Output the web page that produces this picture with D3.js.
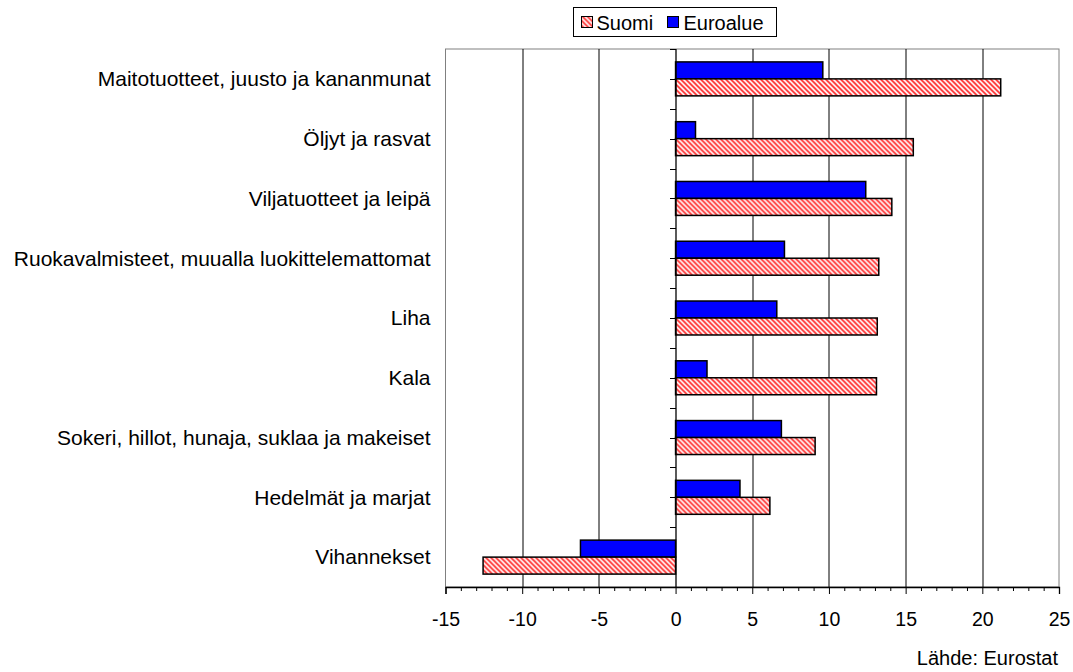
<!DOCTYPE html>
<html>
<head>
<meta charset="utf-8">
<script src="https://cdn.jsdelivr.net/npm/d3@7"></script>
<style>
  body { margin: 0; background: #fff; }
  svg text { font-family: "Liberation Sans", Arial, sans-serif; fill: #000; }
</style>
</head>
<body>
<div id="content"></div>
<script>
// data, top to bottom
var categories = [
    'Maitotuotteet, juusto ja kananmunat',
    'Öljyt ja rasvat',
    'Viljatuotteet ja leipä',
    'Ruokavalmisteet, muualla luokittelemattomat',
    'Liha',
    'Kala',
    'Sokeri, hillot, hunaja, suklaa ja makeiset',
    'Hedelmät ja marjat',
    'Vihannekset'
];
var suomi    = [21.2, 15.5, 14.1, 13.25, 13.15, 13.1, 9.1, 6.15, -12.55];
var euroalue = [9.6, 1.3, 12.4, 7.1, 6.6, 2.05, 6.9, 4.2, -6.2];
var seriesNames = ['Euroalue', 'Suomi'];
var xTicks = [-15, -10, -5, 0, 5, 10, 15, 20, 25];

var width = 1073, height = 672;
var margin = { top: 49, right: 14, bottom: 85, left: 445.5 };
var plotW = width - margin.left - margin.right,
    plotH = height - margin.top - margin.bottom;

var svg = d3.select('#content').append('svg')
    .attr('width', width)
    .attr('height', height);

var defs = svg.append('defs');
var pat = defs.append('pattern')
    .attr('id', 'hatch')
    .attr('patternUnits', 'userSpaceOnUse')
    .attr('width', 5)
    .attr('height', 5);
pat.append('rect').attr('width', 5).attr('height', 5).attr('fill', '#fff');
pat.append('path')
    .attr('d', 'M-1,-1 L6,6 M-1,4 L1,6 M4,-1 L6,1')
    .attr('stroke', '#ff2020')
    .attr('stroke-width', 1.6);

var colors = { 'Euroalue': '#0000ff', 'Suomi': 'url(#hatch)' };

var xScale = d3.scaleLinear()
    .domain([-15, 25])
    .range([0, plotW]);

var yScale = d3.scaleBand()
    .domain(categories)
    .range([0, plotH]);

var ySub = d3.scaleBand()
    .domain(seriesNames)
    .range([0, yScale.bandwidth()])
    .paddingOuter(0.76);

var g = svg.append('g')
    .attr('transform', 'translate(' + margin.left + ',' + margin.top + ')');

// plot border
g.append('rect')
    .attr('width', plotW)
    .attr('height', plotH)
    .attr('fill', 'none')
    .attr('stroke', '#808080')
    .attr('stroke-width', 1);

// vertical grid lines
g.selectAll('.grid').data(xTicks.filter(function(d){ return d !== 0 && d !== -15 && d !== 25; }))
    .enter().append('line')
    .attr('x1', function(d){ return Math.round(xScale(d)) + 0.5; })
    .attr('x2', function(d){ return Math.round(xScale(d)) + 0.5; })
    .attr('y1', 0)
    .attr('y2', plotH)
    .attr('stroke', '#000')
    .attr('stroke-width', 1);

// bars
var rows = categories.map(function(c, i){
    return { cat: c, values: [
        { name: 'Euroalue', v: euroalue[i] },
        { name: 'Suomi', v: suomi[i] }
    ]};
});

var rowG = g.selectAll('.row').data(rows)
    .enter().append('g')
    .attr('transform', function(d){ return 'translate(0,' + yScale(d.cat) + ')'; });

rowG.selectAll('rect').data(function(d){ return d.values; })
    .enter().append('rect')
    .attr('x', function(d){ return xScale(Math.min(0, d.v)); })
    .attr('width', function(d){ return Math.abs(xScale(d.v) - xScale(0)); })
    .attr('y', function(d){ return ySub(d.name); })
    .attr('height', ySub.bandwidth())
    .attr('fill', function(d){ return colors[d.name]; })
    .attr('stroke', '#000')
    .attr('stroke-width', 1.5);

// zero axis with category ticks
var x0 = Math.round(xScale(0)) + 0.5;
g.append('line')
    .attr('x1', x0).attr('x2', x0)
    .attr('y1', 0).attr('y2', plotH)
    .attr('stroke', '#000')
    .attr('stroke-width', 1.3);

var halfTicks = d3.range(0, categories.length * 2 + 1).map(function(k){ return k * yScale.step() / 2; });
g.selectAll('.ytick').data(halfTicks)
    .enter().append('line')
    .attr('x1', x0 - 6).attr('x2', x0)
    .attr('y1', function(d){ return Math.round(d) + 0.5; })
    .attr('y2', function(d){ return Math.round(d) + 0.5; })
    .attr('stroke', '#000');

// category labels
g.selectAll('.ylabel').data(categories)
    .enter().append('text')
    .attr('x', -15)
    .attr('y', function(d){ return yScale(d) + yScale.bandwidth() / 2; })
    .attr('dy', '0.35em')
    .attr('text-anchor', 'end')
    .style('font-size', '21px')
    .text(function(d){ return d; });

// x axis
var hAxis = d3.axisBottom(xScale)
    .tickValues(xTicks)
    .tickSize(7)
    .tickPadding(18)
    .tickFormat(function(d){ return String(d); });

var hGuide = g.append('g')
    .attr('transform', 'translate(0,' + plotH + ')');
hAxis(hGuide);
hGuide.select('.domain').attr('stroke', '#000').attr('stroke-width', 1.3);
hGuide.selectAll('line').attr('stroke', '#000');
hGuide.selectAll('text')
    .style('font-size', '19.5px')
    .style('font-family', '"Liberation Sans", Arial, sans-serif')
    .attr('fill', '#000');

var minorAxis = d3.axisBottom(xScale)
    .tickValues(d3.range(-15, 26, 1).filter(function(d){ return d % 5 !== 0; }))
    .tickSize(4)
    .tickFormat('');
var minorG = g.append('g')
    .attr('transform', 'translate(0,' + plotH + ')');
minorAxis(minorG);
minorG.select('.domain').remove();
minorG.selectAll('line').attr('stroke', '#000');

// legend
var legend = svg.append('g').attr('transform', 'translate(573.5,7.5)');
legend.append('rect')
    .attr('width', 203)
    .attr('height', 29)
    .attr('fill', '#fff')
    .attr('stroke', '#000');

var legendItems = [
    { name: 'Suomi', x: 8, tx: 23 },
    { name: 'Euroalue', x: 94, tx: 110 }
];
legend.selectAll('.sw').data(legendItems)
    .enter().append('rect')
    .attr('x', function(d){ return d.x; })
    .attr('y', 9)
    .attr('width', 11)
    .attr('height', 11)
    .attr('fill', function(d){ return colors[d.name]; })
    .attr('stroke', '#000');
legend.selectAll('.lt').data(legendItems)
    .enter().append('text')
    .attr('x', function(d){ return d.tx; })
    .attr('y', 15)
    .attr('dy', '0.35em')
    .style('font-size', '20px')
    .text(function(d){ return d.name; });

// source
svg.append('text')
    .attr('x', 1058)
    .attr('y', 665)
    .attr('text-anchor', 'end')
    .style('font-size', '20px')
    .text('Lähde: Eurostat');
</script>
</body>
</html>
